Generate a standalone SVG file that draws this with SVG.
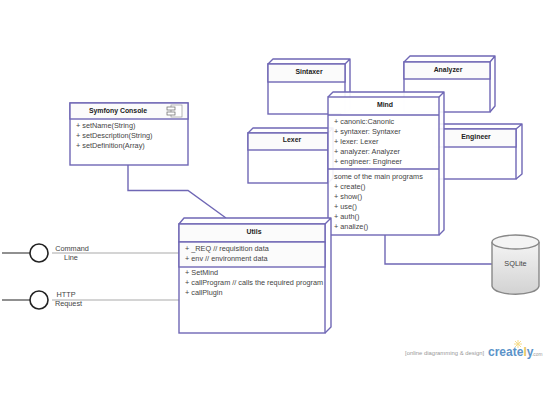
<svg xmlns="http://www.w3.org/2000/svg" width="550" height="410" viewBox="0 0 550 410">
<style>
.b{fill:#fff;stroke:#6f67b5;stroke-width:1.4}
.d{fill:#fff;stroke:#6f67b5;stroke-width:1.4;stroke-linejoin:round}
.h{fill:#fbfbfb;stroke:#6f67b5;stroke-width:1.4}
.l{fill:none;stroke:#6f67b5;stroke-width:1.4}
text{font-family:"Liberation Sans",Arial,sans-serif;font-size:7.3px;fill:#444}
.t{font-weight:bold;font-size:6.9px;text-anchor:middle;fill:#222}
.m{text-anchor:middle}
</style>
<defs>
<linearGradient id="g" x1="0" y1="0" x2="0" y2="1"><stop offset="0" stop-color="#f4f4f4"/><stop offset="1" stop-color="#d2d2d2"/></linearGradient>
</defs>
<rect width="550" height="410" fill="#fff"/>
<g id="connectors">
<path class="l" d="M128 165V190.500H188L226 218"/>
<path class="l" d="M385 235V264H492"/>
<path d="M52 253H179M52 300H179" fill="none" stroke="#aaa" stroke-width="1.2"/>
<path d="M2 253H30M2 300H30" fill="none" stroke="#222" stroke-width="1.2"/>
</g>
<g id="syntaxer">
<path class="d" d="M268 64l5-5h77v50l-5 5M345 64l5-5"/>
<rect class="b" x="268" y="64" width="77" height="50"/>
<rect class="h" x="268" y="64" width="77" height="18"/>
<text class="t" x="309" y="74">Sintaxer</text>
</g>
<g id="analyzer">
<path class="d" d="M404 62l6-6h85v50l-5 6M490 62l5-6"/>
<rect class="b" x="404" y="62" width="86" height="50"/>
<rect class="h" x="404" y="62" width="86" height="17"/>
<text class="t" x="448" y="71.500">Analyzer</text>
</g>
<g id="lexer">
<path class="d" d="M248 133l5-5h80v50l-5 5M328 133l5-5"/>
<rect class="b" x="248" y="133" width="80" height="50"/>
<rect class="h" x="248" y="133" width="80" height="17"/>
<text class="t" x="292" y="141.500">Lexer</text>
</g>
<g id="engineer">
<path class="d" d="M433 129l5-5h84v50l-6 5M516 129l6-5"/>
<rect class="b" x="433" y="129" width="83" height="50"/>
<rect class="h" x="433" y="129" width="83" height="18"/>
<text class="t" x="476" y="139">Engineer</text>
</g>
<g id="mind">
<path class="d" d="M328 97l5-5h111v138l-5 5M439 97l5-5" fill-opacity=".9"/>
<rect class="b" x="328" y="97" width="111" height="138" fill-opacity=".9"/>
<path d="M328 115H439M328 169H439" class="l"/>
<text class="t" x="385" y="106.500">Mind</text>
<text x="334" y="123.500">+ canonic:Canonic</text>
<text x="334" y="133.500">+ syntaxer: Syntaxer</text>
<text x="334" y="143.500">+ lexer: Lexer</text>
<text x="334" y="153.500">+ analyzer: Analyzer</text>
<text x="334" y="163.500">+ engineer: Engineer</text>
<text x="334" y="178.500">some of the main programs</text>
<text x="334" y="188.500">+ create()</text>
<text x="334" y="198.500">+ show()</text>
<text x="334" y="208.500">+ use()</text>
<text x="334" y="218.500">+ auth()</text>
<text x="334" y="228.500">+ analize()</text>
</g>
<g id="symfony-console">
<rect class="b" x="70" y="103" width="118" height="62"/>
<rect class="h" x="70" y="103" width="118" height="16"/>
<text class="t" x="118" y="112.500">Symfony Console</text>
<rect x="171" y="105" width="11" height="12" fill="#fff" stroke="#999" stroke-width=".7"/>
<rect x="167" y="107" width="8" height="3" fill="#fff" stroke="#666" stroke-width=".7"/>
<rect x="167" y="112" width="8" height="3" fill="#fff" stroke="#666" stroke-width=".7"/>
<text x="76" y="128">+ setName(String)</text>
<text x="76" y="138">+ setDescription(String)</text>
<text x="76" y="148">+ setDefinition(Array)</text>
</g>
<g id="utils">
<path class="d" d="M179 224l5-6h147v109l-6 6M325 224l6-6"/>
<rect class="b" x="179" y="224" width="146" height="109"/>
<rect class="h" x="179" y="224" width="146" height="18"/>
<rect class="h" x="179" y="242" width="146" height="25"/>
<text class="t" x="254" y="233.500">Utils</text>
<text x="185" y="250.500">+ _REQ // requisition data</text>
<text x="185" y="260.500">+ env // environment data</text>
<text x="185" y="275">+ SetMind</text>
<text x="185" y="285">+ callProgram // calls the required program</text>
<text x="185" y="295">+ callPlugin</text>
</g>
<g id="command-line">
<circle cx="39" cy="253" r="9" fill="#fff" stroke="#222" stroke-width="1.6"/>
<text class="m" x="72" y="250.500">Command</text>
<text class="m" x="71" y="259.500">Line</text>
</g>
<g id="http-request">
<circle cx="39" cy="300" r="9" fill="#fff" stroke="#222" stroke-width="1.6"/>
<text class="m" x="66" y="296.500">HTTP</text>
<text class="m" x="68.500" y="306">Request</text>
</g>
<g id="sqlite">
<path d="M492 242V286C494 297 537 297 539 286V242" fill="url(#g)" stroke="#888" stroke-width="1.4"/>
<ellipse cx="515.500" cy="242" rx="23.500" ry="7" fill="#f4f4f4" stroke="#888" stroke-width="1.4"/>
<text class="m" x="515.500" y="265.500">SQLite</text>
</g>
<g id="watermark">
<path d="M518 340v8M514 344h8M515 341l6 6M521 341l-6 6" stroke="#f5dc8c" stroke-width="1" fill="none"/>
<text x="405" y="355" style="font-size:5.900px;fill:#999">[online diagramming &amp; design]</text>
<text x="488" y="356" style="font-size:12px;font-weight:bold;fill:#5b93c9">creat<tspan fill="#5b93c9">e</tspan><tspan fill="#e8c560">l</tspan>y</text>
<text x="532" y="356" style="font-size:4.800px;fill:#999">.com</text>
</g>
</svg>
